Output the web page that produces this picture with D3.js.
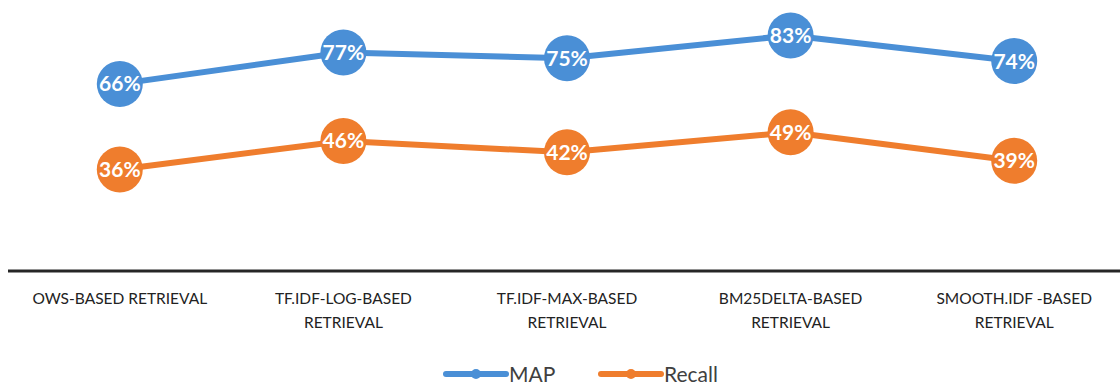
<!DOCTYPE html>
<html>
<head>
<meta charset="utf-8">
<script src="https://cdn.jsdelivr.net/npm/d3@7"></script>
<style>
  body { margin: 0; background: #fff; }
  svg { display: block; }
</style>
</head>
<body>
<svg width="1120" height="389"></svg>
<script>
const categories = [
    ["OWS-BASED RETRIEVAL"],
    ["TF.IDF-LOG-BASED", "RETRIEVAL"],
    ["TF.IDF-MAX-BASED", "RETRIEVAL"],
    ["BM25DELTA-BASED", "RETRIEVAL"],
    ["SMOOTH.IDF -BASED", "RETRIEVAL"]
];
const mapValues = [0.66, 0.77, 0.75, 0.83, 0.74];
const recallValues = [0.36, 0.46, 0.42, 0.49, 0.39];
const seriesNames = ["MAP", "Recall"];
const colors = ["#4a8fd6", "#ef7d2d"];

const svg = d3.select("svg");
const series = [mapValues, recallValues];

const x = d3.scaleBand()
    .domain(d3.range(categories.length))
    .range([8, 1126]);

const y = d3.scaleLinear()
    .domain([0, 1])
    .range([272, -13]);

// category axis line
svg.append("line")
    .attr("x1", 8).attr("x2", 1120)
    .attr("y1", y(0) - 1).attr("y2", y(0) - 1)
    .attr("stroke", "#262626")
    .attr("stroke-width", 3);

// category labels
const lab = svg.append("g")
    .selectAll("text")
    .data(categories)
    .enter().append("text")
    .attr("x", (d, i) => x(i) + x.bandwidth() / 2)
    .attr("y", 304)
    .attr("text-anchor", "middle")
    .attr("font-family", "Lato, 'Open Sans', sans-serif")
    .attr("font-size", 15.5)
    .attr("fill", "#222");
lab.selectAll("tspan")
    .data(d => d)
    .enter().append("tspan")
    .attr("x", function() { return d3.select(this.parentNode).attr("x"); })
    .attr("dy", (d, i) => i === 0 ? 0 : 24)
    .text(d => d);

const line = d3.line()
    .x((d, i) => x(i) + x.bandwidth() / 2)
    .y(d => y(d));

series.forEach(function(vals, s) {
    svg.append("path")
        .datum(vals)
        .attr("fill", "none")
        .attr("stroke", colors[s])
        .attr("stroke-width", 6)
        .attr("stroke-linejoin", "round")
        .attr("d", line);

    const pts = svg.append("g").selectAll("g")
        .data(vals)
        .enter().append("g")
        .attr("transform", (d, i) => `translate(${x(i) + x.bandwidth() / 2},${y(d)})`);

    pts.append("circle")
        .attr("r", 23)
        .attr("fill", colors[s]);

    pts.append("text")
        .attr("text-anchor", "middle")
        .attr("dy", "0.36em")
        .attr("font-family", "Lato, sans-serif")
        .attr("font-weight", "bold")
        .attr("font-size", 21)
        .attr("fill", "#fff")
        .text(d => d3.format(".0%")(d));
});

// legend
const legend = svg.append("g")
    .selectAll("g")
    .data(seriesNames)
    .enter().append("g")
    .attr("transform", (d, i) => `translate(${446 + i * 155},374)`);

legend.append("line")
    .attr("x1", 0).attr("x2", 60)
    .attr("stroke", (d, i) => colors[i])
    .attr("stroke-width", 6)
    .attr("stroke-linecap", "round");

legend.append("circle")
    .attr("cx", 30)
    .attr("r", 5)
    .attr("fill", (d, i) => colors[i]);

legend.append("text")
    .attr("x", 63)
    .attr("dy", "0.36em")
    .attr("font-family", "Lato, sans-serif")
    .attr("font-size", 21)
    .attr("fill", "#404040")
    .text(d => d);
</script>
</body>
</html>
